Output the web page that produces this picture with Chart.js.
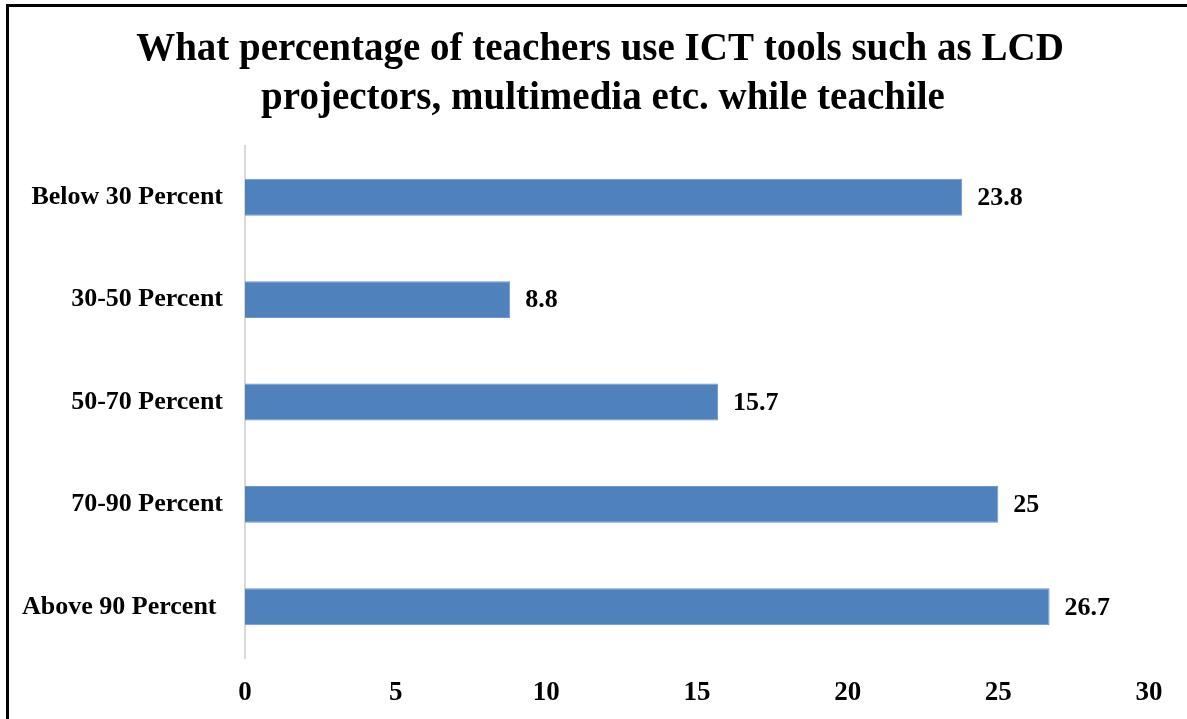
<!DOCTYPE html>
<html>
<head>
<meta charset="utf-8">
<script src="https://cdn.jsdelivr.net/npm/chart.js@4"></script>
<style>
  html, body { margin: 0; padding: 0; background: #fff; }
  #wrap { position: relative; width: 1187px; height: 719px; }
  #frame { position: absolute; left: 6px; top: 4px; width: 1200px; height: 800px;
           border-left: 3px solid #000; border-top: 3px solid #000; pointer-events: none; }
</style>
</head>
<body>
<div id="wrap">
  <canvas id="chart" width="1187" height="719"></canvas>
  <div id="frame"></div>
</div>
<script>
const titleLines = ['What percentage of teachers use ICT tools such as LCD', 'projectors, multimedia etc. while teachile'];
const categories = ['Below 30 Percent', '30-50 Percent', '50-70 Percent', '70-90 Percent', 'Above 90 Percent '];
const values = [23.8, 8.8, 15.7, 25, 26.7];
const xTicks = [0, 5, 10, 15, 20, 25, 30];

const serif = "'Liberation Serif', 'DejaVu Serif', serif";

// title drawn by hand so it can sit centred on the whole picture, not on the plot
const titlePlugin = {
    id: 'titlePlugin',
    afterDraw(chart) {
        const c = chart.ctx;
        c.save();
        c.font = 'bold 39px ' + serif;
        c.fillStyle = '#000';
        c.textAlign = 'center';
        c.textBaseline = 'alphabetic';
        c.fillText(titleLines[0], 600, 60);
        c.fillText(titleLines[1], 603, 109);
        c.restore();
    }
};

// draws the value next to the end of each bar
const barLabels = {
    id: 'barLabels',
    afterDatasetsDraw(chart) {
        const c = chart.ctx;
        const meta = chart.getDatasetMeta(0);
        c.save();
        c.font = 'bold 26px ' + serif;
        c.fillStyle = '#000';
        c.textAlign = 'left';
        c.textBaseline = 'middle';
        meta.data.forEach((bar, i) => {
            c.fillText(String(values[i]), bar.x + 15, bar.y + 1);
        });
        c.restore();
    }
};

const ctx = document.getElementById('chart').getContext('2d');
new Chart(ctx, {
    type: 'bar',
    data: {
        labels: categories,
        datasets: [{
            data: values,
            backgroundColor: '#4F81BD',
            borderColor: '#6E97CB',
            borderWidth: 1,
            borderSkipped: 'left',
            categoryPercentage: 1,
            barPercentage: 0.36
        }]
    },
    options: {
        indexAxis: 'y',
        responsive: false,
        animation: false,
        layout: { padding: { left: 0, right: 38, top: 146, bottom: 0 } },
        plugins: {
            legend: { display: false },
            tooltip: { enabled: false },
            title: { display: false }
        },
        scales: {
            x: {
                min: 0, max: 30,
                afterBuildTicks: s => { s.ticks = xTicks.map(v => ({ value: v })); },
                afterFit: s => { s.height = 61; },
                grid: { display: false, drawTicks: false },
                border: { display: false },
                ticks: {
                    color: '#000',
                    padding: 19,
                    font: { family: serif, size: 27, weight: 'bold' }
                }
            },
            y: {
                afterFit: s => { s.width = 245; },
                grid: { display: false, drawTicks: false },
                border: { display: true, color: '#D9D9D9', width: 2 },
                ticks: {
                    color: '#000',
                    padding: 22,
                    font: { family: serif, size: 26, weight: 'bold' }
                }
            }
        }
    },
    plugins: [barLabels, titlePlugin]
});
</script>
</body>
</html>
